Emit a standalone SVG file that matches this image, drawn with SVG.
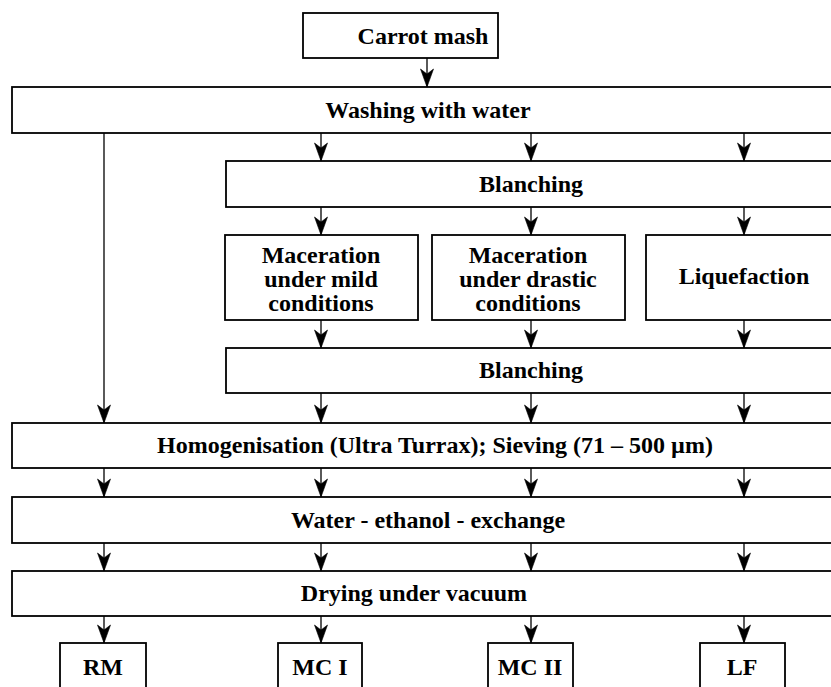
<svg xmlns="http://www.w3.org/2000/svg" width="831" height="687" viewBox="0 0 831 687">
<defs>
<style>
.b{fill:#fff;stroke:#000;stroke-width:1.8}
.t{font-family:"Liberation Serif","Times New Roman",Times,serif;font-weight:bold;font-size:24px;fill:#000;text-anchor:middle}
.c{stroke:#000;stroke-width:1.3;fill:none;marker-end:url(#ah)}
</style>
<marker id="ah" markerUnits="userSpaceOnUse" viewBox="-19 -8 20 16" refX="0" refY="0" markerWidth="20" markerHeight="16" orient="auto">
<path d="M0,0 L-18,-6.5 L-13,0 L-18,6.5 Z" fill="#000" stroke="#000" stroke-width="0.6" stroke-linejoin="miter"/>
</marker>
</defs>
<rect width="831" height="687" fill="#fff"/>
<g id="connectors">
<line class="c" x1="427" y1="58" x2="427" y2="87"/>
<line class="c" x1="104" y1="133" x2="104" y2="423"/>
<line class="c" x1="321" y1="133" x2="321" y2="161"/>
<line class="c" x1="531" y1="133" x2="531" y2="161"/>
<line class="c" x1="744" y1="133" x2="744" y2="161"/>
<line class="c" x1="321" y1="207" x2="321" y2="235"/>
<line class="c" x1="531" y1="207" x2="531" y2="235"/>
<line class="c" x1="744" y1="207" x2="744" y2="235"/>
<line class="c" x1="321" y1="320" x2="321" y2="348"/>
<line class="c" x1="531" y1="320" x2="531" y2="348"/>
<line class="c" x1="744" y1="320" x2="744" y2="348"/>
<line class="c" x1="321" y1="393" x2="321" y2="423"/>
<line class="c" x1="531" y1="393" x2="531" y2="423"/>
<line class="c" x1="744" y1="393" x2="744" y2="423"/>
<line class="c" x1="104" y1="468" x2="104" y2="497"/>
<line class="c" x1="321" y1="468" x2="321" y2="497"/>
<line class="c" x1="531" y1="468" x2="531" y2="497"/>
<line class="c" x1="744" y1="468" x2="744" y2="497"/>
<line class="c" x1="104" y1="543" x2="104" y2="571"/>
<line class="c" x1="321" y1="543" x2="321" y2="571"/>
<line class="c" x1="531" y1="543" x2="531" y2="571"/>
<line class="c" x1="744" y1="543" x2="744" y2="571"/>
<line class="c" x1="104" y1="616" x2="104" y2="643"/>
<line class="c" x1="321" y1="616" x2="321" y2="643"/>
<line class="c" x1="531" y1="616" x2="531" y2="643"/>
<line class="c" x1="744" y1="616" x2="744" y2="643"/>
</g>
<g id="carrot"><rect class="b" x="303" y="13" width="195" height="45"/><text class="t" x="423" y="44">Carrot mash</text></g>
<g id="washing"><rect class="b" x="12" y="87" width="830" height="46"/><text class="t" x="428" y="118">Washing with water</text></g>
<g id="blanching1"><rect class="b" x="226" y="161" width="616" height="46"/><text class="t" x="531" y="192">Blanching</text></g>
<g id="mild"><rect class="b" x="225" y="235" width="193" height="85"/><text class="t" x="321" y="263">Maceration</text><text class="t" x="321" y="287">under mild</text><text class="t" x="321" y="311">conditions</text></g>
<g id="drastic"><rect class="b" x="432" y="235" width="193" height="85"/><text class="t" x="528" y="263">Maceration</text><text class="t" x="528" y="287">under drastic</text><text class="t" x="528" y="311">conditions</text></g>
<g id="liquefaction"><rect class="b" x="646" y="235" width="196" height="85"/><text class="t" x="744" y="284">Liquefaction</text></g>
<g id="blanching2"><rect class="b" x="226" y="348" width="616" height="45"/><text class="t" x="531" y="378">Blanching</text></g>
<g id="homogenisation"><rect class="b" x="12" y="423" width="830" height="45"/><text class="t" x="435" y="453">Homogenisation (Ultra Turrax); Sieving (71 – 500 µm)</text></g>
<g id="exchange"><rect class="b" x="12" y="497" width="830" height="46"/><text class="t" x="428" y="528">Water - ethanol - exchange</text></g>
<g id="drying"><rect class="b" x="12" y="571" width="830" height="45"/><text class="t" x="414" y="601">Drying under vacuum</text></g>
<g id="rm"><rect class="b" x="60" y="643" width="86" height="60"/><text class="t" x="103" y="675">RM</text></g>
<g id="mc1"><rect class="b" x="278" y="643" width="84" height="60"/><text class="t" x="320" y="675">MC I</text></g>
<g id="mc2"><rect class="b" x="488" y="643" width="85" height="60"/><text class="t" x="530" y="675">MC II</text></g>
<g id="lf"><rect class="b" x="700" y="643" width="85" height="60"/><text class="t" x="742" y="675">LF</text></g>
</svg>
